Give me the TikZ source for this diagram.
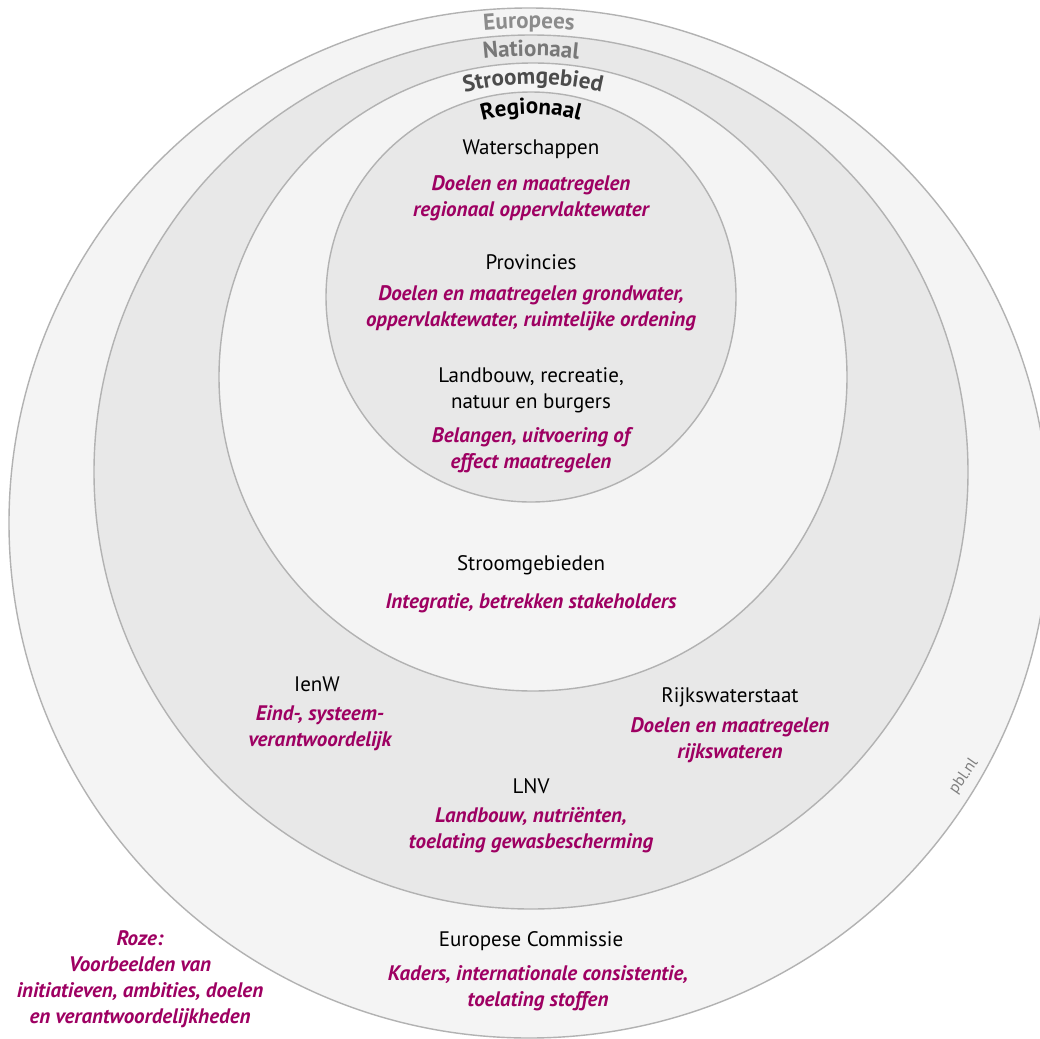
\documentclass[tikz,border=0pt]{standalone}
\usepackage{fontspec}
\setmainfont{PT Sans}
\usepackage{tikz}
\usetikzlibrary{positioning,calc,decorations.text}
\definecolor{roze}{RGB}{158,0,98}
\definecolor{ringline}{RGB}{178,178,178}
\definecolor{lichtgrijs}{RGB}{244,244,244}
\definecolor{middengrijs}{RGB}{232,232,232}

\begin{document}
\begin{tikzpicture}[
    x=0.5pt, y=-0.5pt,
    font=\fontsize{10.5}{13}\selectfont,
    ring/.style={draw=ringline, line width=0.7pt},
    actor/.style={align=center, inner sep=1pt},
    taak/.style={align=center, inner sep=1pt, text=roze, font=\fontsize{10.5}{13}\selectfont\bfseries\itshape},
    niveau/.style={decorate, decoration={text along path, text align=center, text={#1}}},
]
\useasboundingbox (0,0) rectangle (1039,1039);

% ringen, van buiten naar binnen
\fill[white] (0,0) rectangle (1039,1039);
\coordinate (meur) at (529,523);
\coordinate (mnat) at (531,472);
\coordinate (mstg) at (533,377);
\coordinate (mreg) at (531,297);
\filldraw[ring, fill=lichtgrijs] (meur) ellipse [x radius=260pt, y radius=257.5pt];
\filldraw[ring, fill=middengrijs] (mnat) circle [radius=218.5pt];
\filldraw[ring, fill=lichtgrijs] (mstg) circle [radius=157pt];
\filldraw[ring, fill=middengrijs] (mreg) circle [radius=102.5pt];

% namen van de ringen, langs de boog
\path[niveau={|\fontsize{11.5}{13}\selectfont\bfseries\color{black!45}|Europees}]
  ($(meur)+(120:247.5pt)$) arc [start angle=120, end angle=60, radius=247.5pt];
\path[niveau={|\fontsize{11.5}{13}\selectfont\bfseries\color{black!53}|Nationaal}]
  ($(mnat)+(120:208pt)$) arc [start angle=120, end angle=60, radius=208pt];
\path[niveau={|\fontsize{11.5}{13}\selectfont\bfseries\color{black!70}|Stroomgebied}]
  ($(mstg)+(125:146.5pt)$) arc [start angle=125, end angle=55, radius=146.5pt];
\path[niveau={|\fontsize{11.5}{13}\selectfont\bfseries\color{black}|Regionaal}]
  ($(mreg)+(130:91.5pt)$) arc [start angle=130, end angle=50, radius=91.5pt];

% regionaal
\node[actor] (ws) at (531,149) {Waterschappen};
\node[taak] (wstaak) at (531,198) {Doelen en maatregelen\\regionaal oppervlaktewater};
\node[actor] (prov) at (531,262) {Provincies};
\node[taak] (provtaak) at (531,308) {Doelen en maatregelen grondwater,\\oppervlaktewater, ruimtelijke ordening};
\node[actor] (burg) at (531,390) {Landbouw, recreatie,\\natuur en burgers};
\node[taak] (burgtaak) at (531,450) {Belangen, uitvoering of\\effect maatregelen};

% stroomgebied
\node[actor] (stroom) at (531,565) {Stroomgebieden};
\node[taak] (stroomtaak) at (531,603) {Integratie, betrekken stakeholders};

% nationaal
\node[actor] (ienw) at (317,684) {IenW};
\node[taak] (ienwtaak) at (320,728) {Eind-, systeem-\\verantwoordelijk};
\node[actor] (rws) at (730,697) {Rijkswaterstaat};
\node[taak] (rwstaak) at (730,740) {Doelen en maatregelen\\rijkswateren};
\node[actor] (lnv) at (531,786) {LNV};
\node[taak] (lnvtaak) at (531,830) {Landbouw, nutriënten,\\toelating gewasbescherming};

% europees
\node[actor] (ec) at (531,941) {Europese Commissie};
\node[taak] (ectaak) at (538,988) {Kaders, internationale consistentie,\\toelating stoffen};

\node[taak] (legenda) at (140,979) {Roze:\\Voorbeelden van\\initiatieven, ambities, doelen\\en verantwoordelijkheden};
\node[inner sep=0pt, text=black!50, rotate=55, font=\fontsize{8}{10}\selectfont] (bron) at (964,776) {pbl.nl};
\end{tikzpicture}
\end{document}
